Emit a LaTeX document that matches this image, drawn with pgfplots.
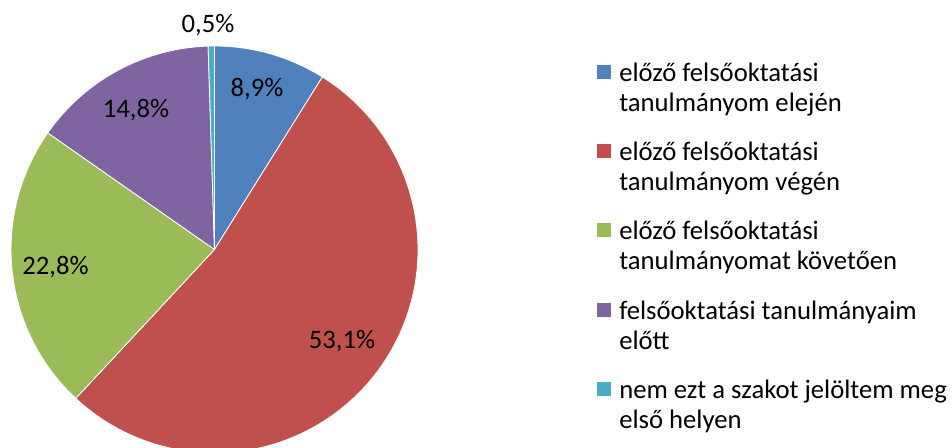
\documentclass[border=0pt]{standalone}
\usepackage{fontspec}
\setmainfont{Carlito}
\usepackage{pgfplots}
\pgfplotsset{compat=1.18}

\definecolor{pblue}{HTML}{4F81BD}
\definecolor{pred}{HTML}{C0504D}
\definecolor{pgreen}{HTML}{9BBB59}
\definecolor{ppurple}{HTML}{8064A2}
\definecolor{pcyan}{HTML}{4BACC6}

% #1 cumulative share before the slice, #2 share, #3 colour
\newcommand\slice[3]{%
  \fill[#3, draw=white, line width=0.6pt] (axis cs:214.5,198.5) -- ++({90-3.5964*#1}:152.6pt)
    arc[start angle={90-3.5964*#1}, end angle={90-3.5964*(#1+#2)}, radius=152.6pt] -- cycle;}

\begin{document}
\begin{tikzpicture}[every node/.style={font=\fontsize{20pt}{22.5pt}\selectfont, inner sep=0pt}]
\begin{axis}[x=0.75pt, y=0.75pt, xmin=0, xmax=952, ymin=0, ymax=448,
  hide axis, clip=false]
\slice{0}{8.9}{pblue}
\slice{8.9}{53.1}{pred}
\slice{62.0}{22.8}{pgreen}
\slice{84.8}{14.8}{ppurple}
\slice{99.6}{0.5}{pcyan}

\node[anchor=base] at (axis cs:257,351) {8,9\%};
\node[anchor=base] at (axis cs:342,99) {53,1\%};
\node[anchor=base] at (axis cs:55.5,173) {22,8\%};
\node[anchor=base] at (axis cs:136,330) {14,8\%};
\node[anchor=base] at (axis cs:208,415) {0,5\%};

% legend
\fill[pblue]   (axis cs:597,369) rectangle (axis cs:611,383);
\fill[pred]    (axis cs:597,290) rectangle (axis cs:611,304);
\fill[pgreen]  (axis cs:597,211) rectangle (axis cs:611,225);
\fill[ppurple] (axis cs:597,131) rectangle (axis cs:611,145);
\fill[pcyan]   (axis cs:597,52)  rectangle (axis cs:611,66);

\node[anchor=base west] at (axis cs:619,366) {előző felsőoktatási};
\node[anchor=base west] at (axis cs:619,336) {tanulmányom elején};
\node[anchor=base west] at (axis cs:619,287) {előző felsőoktatási};
\node[anchor=base west] at (axis cs:619,257) {tanulmányom végén};
\node[anchor=base west] at (axis cs:619,208) {előző felsőoktatási};
\node[anchor=base west] at (axis cs:619,178) {tanulmányomat követően};
\node[anchor=base west] at (axis cs:619,128) {felsőoktatási tanulmányaim};
\node[anchor=base west] at (axis cs:619,98)  {előtt};
\node[anchor=base west] at (axis cs:619,49)  {nem ezt a szakot jelöltem meg};
\node[anchor=base west] at (axis cs:619,19)  {első helyen};
\end{axis}
\pgfresetboundingbox
\path (0,0) rectangle (714pt,336pt);
\end{tikzpicture}
\end{document}
